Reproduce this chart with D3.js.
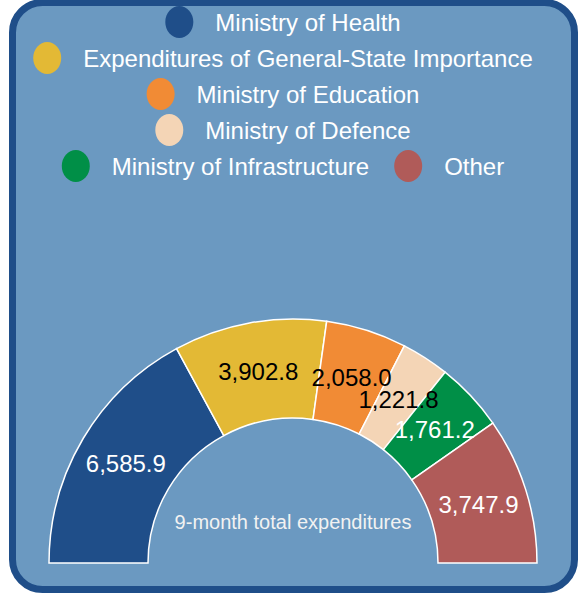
<!DOCTYPE html>
<html>
<head>
<meta charset="utf-8">
<script src="https://cdn.jsdelivr.net/npm/d3@7"></script>
<style>
    body { margin: 0; background: #ffffff; }
    svg { display: block; font-family: "Liberation Sans", Arial, sans-serif; }
</style>
</head>
<body>
<svg id="chart"></svg>
<script>
// data
const categories = [
    "Ministry of Health",
    "Expenditures of General-State Importance",
    "Ministry of Education",
    "Ministry of Defence",
    "Ministry of Infrastructure",
    "Other"
];
const values = [6585.9, 3902.8, 2058.0, 1221.8, 1761.2, 3747.9];
const colors = ["#1f4e89", "#e3b935", "#f18b35", "#f4d5b6", "#008f47", "#b05b59"];
const labelColors = ["#ffffff", "#000000", "#000000", "#000000", "#ffffff", "#ffffff"];
const centerText = "9-month total expenditures";

const width = 586;
const height = 593;

const svg = d3.select("#chart")
    .attr("width", width)
    .attr("height", height)
;

// panel
svg.append("rect")
    .attr("x", 12.5)
    .attr("y", 2.5)
    .attr("width", 562)
    .attr("height", 587)
    .attr("rx", 30)
    .attr("fill", "#6b99c1")
    .attr("stroke", "#1f4e89")
    .attr("stroke-width", 7)
;

// legend, wrapped in centred rows
const legendFont = 24;
const legendMaxWidth = 500;
const legendCenter = 283;
const legendTop = 22;
const rowStep = 36;
const markerW = 28, markerGap = 22, itemGap = 25;

const legend = svg.append("g");
const items = legend.selectAll("g.item")
    .data(categories)
    .enter().append("g")
    .attr("class", "item")
;
items.append("ellipse")
    .attr("rx", 14)
    .attr("ry", 16)
    .attr("fill", (d, i) => colors[i])
;
items.append("text")
    .attr("x", markerW / 2 + markerGap)
    .attr("dy", "0.37em")
    .attr("fill", "#ffffff")
    .attr("font-size", legendFont)
    .text(d => d)
;

let rows = [];
let current = [];
let currentW = 0;
items.each(function(d, i) {
    const w = markerW + markerGap + this.querySelector("text").getComputedTextLength();
    const extra = current.length ? itemGap + w : w;
    if (current.length && currentW + extra > legendMaxWidth) {
        rows.push({items: current, width: currentW});
        current = [];
        currentW = 0;
    }
    current.push({node: this, w: w});
    currentW += current.length > 1 ? itemGap + w : w;
});
if (current.length) rows.push({items: current, width: currentW});

rows.forEach((row, r) => {
    let x = legendCenter - row.width / 2;
    row.items.forEach(it => {
        d3.select(it.node).attr("transform", `translate(${x + markerW / 2},${legendTop + r * rowStep})`);
        x += it.w + itemGap;
    });
});

// half donut
const cx = 293, cy = 563;
const outerR = 244, innerR = 145;

const pie = d3.pie()
    .sort(null)
    .startAngle(-Math.PI / 2)
    .endAngle(Math.PI / 2)
;
const arc = d3.arc()
    .innerRadius(innerR)
    .outerRadius(outerR)
;

const g = svg.append("g")
    .attr("transform", `translate(${cx},${cy})`)
;

const arcs = pie(values);

g.selectAll("path")
    .data(arcs)
    .enter().append("path")
    .attr("d", arc)
    .attr("fill", (d, i) => colors[i])
    .attr("stroke", "#ffffff")
    .attr("stroke-width", 1.5)
;

g.selectAll("text.value")
    .data(arcs)
    .enter().append("text")
    .attr("class", "value")
    .attr("transform", d => `translate(${arc.centroid(d)})`)
    .attr("text-anchor", "middle")
    .attr("dy", "0.35em")
    .attr("font-size", 24)
    .attr("fill", (d, i) => labelColors[i])
    .text(d => d3.format(",.1f")(d.value))
;

g.append("text")
    .attr("x", 0)
    .attr("y", -41)
    .attr("text-anchor", "middle")
    .attr("dy", "0.35em")
    .attr("font-size", 20)
    .attr("fill", "#f2f2f2")
    .text(centerText)
;
</script>
</body>
</html>
